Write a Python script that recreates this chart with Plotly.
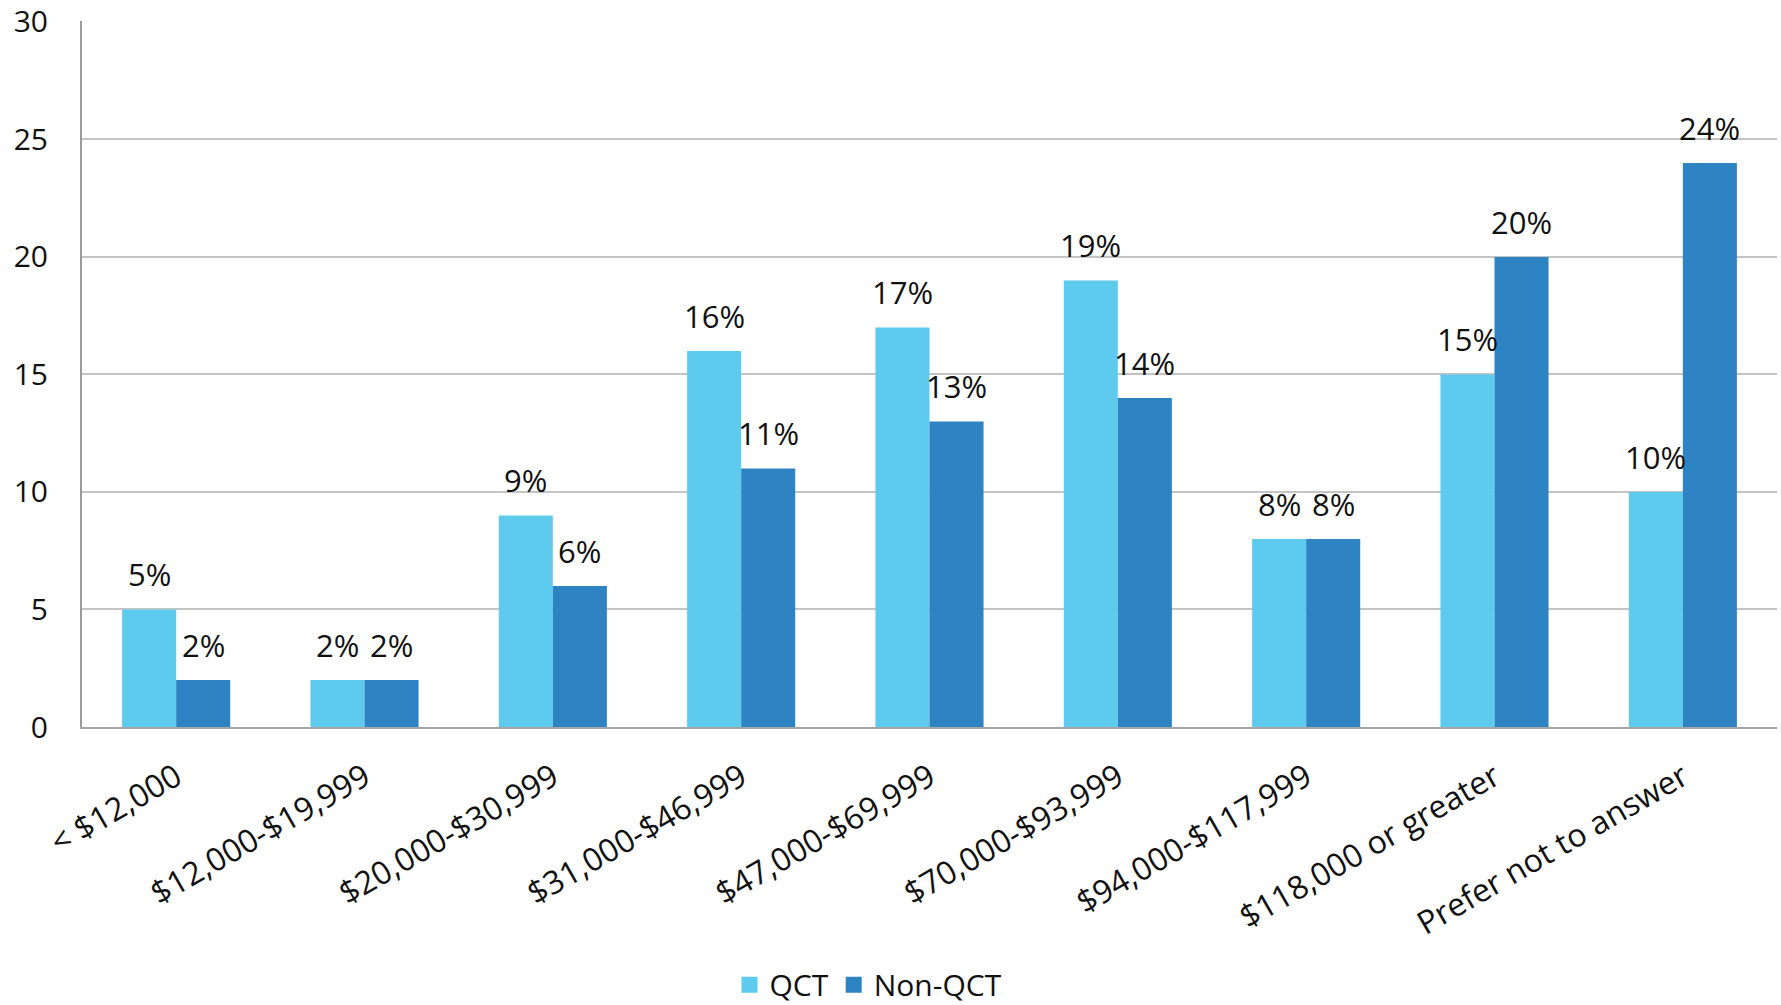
import plotly.graph_objects as go

categories = ["< $12,000", "$12,000-$19,999", "$20,000-$30,999", "$31,000-$46,999",
              "$47,000-$69,999", "$70,000-$93,999", "$94,000-$117,999",
              "$118,000 or greater", "Prefer not to answer"]
qct = [5, 2, 9, 16, 17, 19, 8, 15, 10]
non_qct = [2, 2, 6, 11, 13, 14, 8, 20, 24]
series_names = ["QCT", "Non-QCT"]
colors = ["#5ECBEE", "#2E84C3"]

FONT = "Open Sans"
TXT = "#111111"
BARGAP = 0.426

fig = go.Figure()
for name, vals, col in zip(series_names, [qct, non_qct], colors):
    fig.add_trace(go.Bar(x=list(range(len(categories))), y=vals, name=name,
                         marker=dict(color=col, line=dict(width=0)),
                         showlegend=False))
    fig.add_trace(go.Scatter(x=[None], y=[None], mode="markers", name=name,
                             marker=dict(symbol="square", size=16, color=col)))

off = (1 - BARGAP) / 4
annotations = []
for i in range(len(categories)):
    for vals, sign in [(qct, -1), (non_qct, 1)]:
        annotations.append(dict(x=i + sign * off, y=vals[i], xref="x", yref="y",
                                text=f"{vals[i]}%", showarrow=False,
                                yanchor="bottom", yshift=12,
                                font=dict(family=FONT, size=31, color=TXT)))

fig.update_layout(
    width=1781, height=1005,
    margin=dict(l=82, r=4, t=21, b=278, autoexpand=False),
    paper_bgcolor="white", plot_bgcolor="white",
    barmode="group", bargap=BARGAP, bargroupgap=0,
    font=dict(family=FONT, size=30, color=TXT),
    annotations=annotations,
    legend=dict(orientation="h", x=0.382, xanchor="left", y=-0.365, yanchor="middle",
                font=dict(family=FONT, size=30, color=TXT), itemwidth=30,
                tracegroupgap=0, traceorder="normal"),
    xaxis=dict(tickmode="array", tickvals=list(range(len(categories))),
               ticktext=categories, tickangle=-30, range=[-0.5, len(categories) - 0.5],
               showline=True, linecolor="#a6a6a6", linewidth=2, showgrid=False,
               ticks="", ticklabelstandoff=17, automargin=False,
               ticklabeloverflow="allow",
               tickfont=dict(family=FONT, size=32, color=TXT)),
    yaxis=dict(range=[0, 30.04], tickvals=[0, 5, 10, 15, 20, 25, 30],
               showline=True, linecolor="#9a9a9a", linewidth=2,
               showgrid=True, gridcolor="#c4c4c4", gridwidth=2, zeroline=False,
               ticks="", ticklabelstandoff=26, automargin=False,
               ticklabeloverflow="allow",
               tickfont=dict(family=FONT, size=30, color=TXT)),
)

fig.write_html("out.html", config={"displayModeBar": False},
               post_script="document.body.style.margin='0px';document.body.style.overflow='hidden';")
